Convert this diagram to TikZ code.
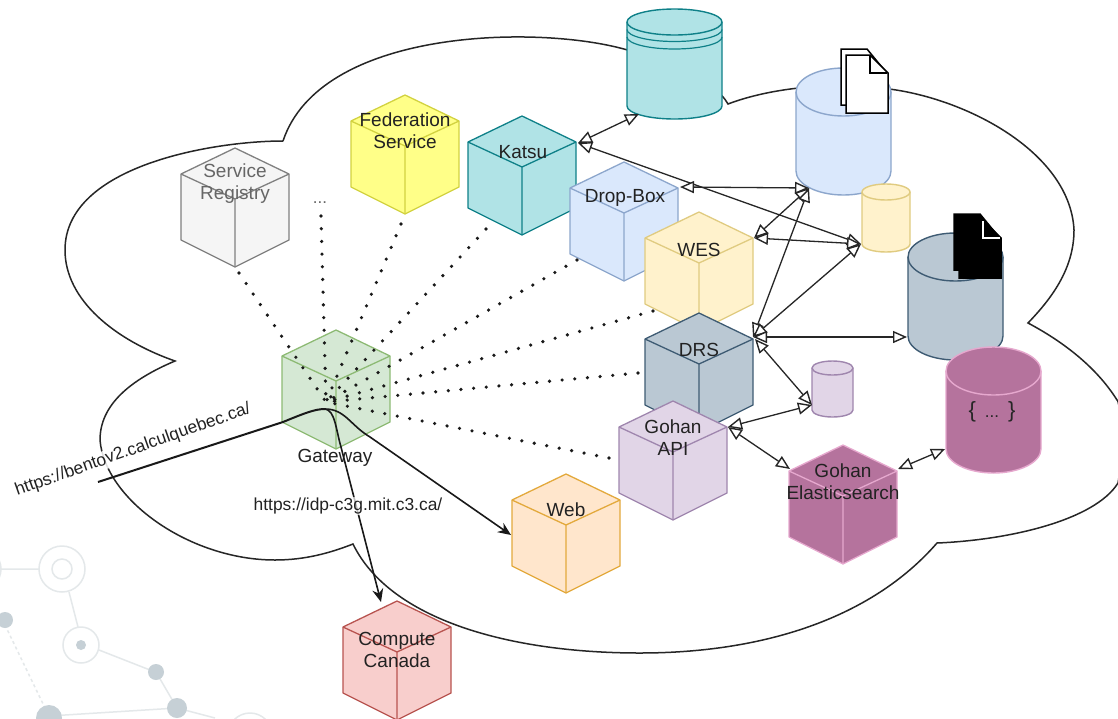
\documentclass[tikz,border=0pt]{standalone}
\usepackage{fontspec}
\setmainfont{Liberation Sans}
\usetikzlibrary{arrows.meta,calc}
\definecolor{txt}{HTML}{222222}
\definecolor{bgnet}{HTML}{E4E8EA}
\definecolor{bgdot}{HTML}{C6D0D6}
\definecolor{tealF}{HTML}{B0E3E6}\definecolor{tealS}{HTML}{0E8088}
\definecolor{blueF}{HTML}{DAE8FC}\definecolor{blueS}{HTML}{8CA6CC}
\definecolor{ylwF}{HTML}{FFF2CC}\definecolor{ylwS}{HTML}{E0CB80}
\definecolor{slateF}{HTML}{BAC8D3}\definecolor{slateS}{HTML}{3E5B73}
\definecolor{lilF}{HTML}{E1D5E7}\definecolor{lilS}{HTML}{9F86AE}
\definecolor{magF}{HTML}{B5739D}\definecolor{magS}{HTML}{E6A8CE}
\definecolor{greyF}{HTML}{F5F5F5}\definecolor{greyS}{HTML}{808080}
\definecolor{fedF}{HTML}{FFFF88}\definecolor{fedS}{HTML}{D2D240}
\definecolor{webF}{HTML}{FFE6CC}\definecolor{webS}{HTML}{E3A93C}
\definecolor{gwF}{HTML}{D5E8D4}\definecolor{gwS}{HTML}{8DBA74}
\definecolor{ccF}{HTML}{F8CECC}\definecolor{ccS}{HTML}{B85450}
\tikzset{
  lbl/.style={font=\fontsize{19}{22}\selectfont,align=center,text=txt,inner sep=0pt},
  urltxt/.style={font=\fontsize{17.4}{20}\selectfont,text=txt,inner sep=1pt},
  dotline/.style={line width=3.6pt,line cap=round,dash pattern=on 0pt off 12.7pt,draw=black!90},
  twoway/.style={line width=1.3pt,draw=black!85,{Triangle[open,fill=white,length=14pt,width=12pt,line width=1.4pt]}-{Triangle[open,fill=white,length=14pt,width=12pt,line width=1.4pt]}},
  route/.style={line width=1.6pt,draw=black!90},
  routeend/.style={-{Stealth[length=13pt,width=11pt]}},
  cloudline/.style={line width=1.5pt,draw=black!85},
  net/.style={line width=1.5pt,draw=bgnet},
}
% name, centre x, top y, fill, stroke
\newcommand{\cubebox}[5]{%
  \begin{scope}[shift={(#2,#3)}]
    \coordinate (#1-t) at (0,0);
    \coordinate (#1-ul) at (-54,26);
    \coordinate (#1-ur) at (54,26);
    \coordinate (#1-c) at (0,51);
    \coordinate (#1-ll) at (-54,92);
    \coordinate (#1-lr) at (54,92);
    \coordinate (#1-b) at (0,119);
    \filldraw[fill=#4,draw=#5,line width=1.3pt,line join=round]
      (#1-t)--(#1-ur)--(#1-lr)--(#1-b)--(#1-ll)--(#1-ul)--cycle;
    \draw[draw=#5,line width=1.3pt] (#1-ul)--(#1-c)--(#1-ur) (#1-c)--(#1-b);
  \end{scope}}
% name, left x, right x, top y, bottom y, ry, fill, stroke
\newcommand{\drum}[8]{%
  \coordinate (#1-tl) at (#2,#4+#6);
  \coordinate (#1-tr) at (#3,#4+#6);
  \coordinate (#1-bl) at (#2,#5-#6);
  \coordinate (#1-br) at (#3,#5-#6);
  \filldraw[fill=#7,draw=#8,line width=1.4pt]
    (#1-tl) arc[start angle=180,end angle=0,x radius={(#3-#2)/2},y radius=-#6]
    -- (#1-br) arc[start angle=0,end angle=180,x radius={(#3-#2)/2},y radius=#6] -- cycle;
  \draw[draw=#8,line width=1.4pt]
    (#1-tl) arc[start angle=180,end angle=0,x radius={(#3-#2)/2},y radius=#6];}
% name, left, top, fill, line, colour of the fold
\newcommand{\pages}[6]{%
  \begin{scope}[shift={(#2,#3)}]
    \coordinate (#1) at (0,0);
    \filldraw[fill=#4,draw=#5,line width=1.5pt,line join=miter]
      (0,0)--(26,0)--(44,22)--(44,56)--(0,56)--cycle;
    \filldraw[fill=#4,draw=#5,line width=1.5pt,line join=miter]
      (5,6)--(29,6)--(47,24)--(47,64)--(5,64)--cycle;
    \draw[draw=#6,line width=1.5pt,line join=miter] (29,7)--(29,24)--(46,24);
  \end{scope}}
\begin{document}
\begin{tikzpicture}[x=1pt,y=-1pt]
\useasboundingbox (0,0) rectangle (1118,718);
\fill[white] (0,0) rectangle (1118,718);
% faint network backdrop
\begin{scope}
\clip (0,0) rectangle (1118,718);
\draw[net] (0,569)--(39,569) (69,592)--(78,627) (99,650)--(150,670);
\draw[net] (156,672)--(177,708) (49,716)--(177,708) (177,708)--(215,718);
\draw[net,dashed] (5,625)--(45,708);
\draw[net] (62,569) circle[radius=23] (62,569) circle[radius=10] (81,645) circle[radius=18] (-20,569) circle[radius=21] (250,735) circle[radius=22];
\fill[bgdot] (81,645) circle[radius=5] (5,620) circle[radius=8] (156,672) circle[radius=8] (177,708) circle[radius=10] (49,718) circle[radius=13];
\end{scope}
% cloud
\coordinate (c1) at (283,141);
\coordinate (c2) at (175,361);
\coordinate (c3) at (353,544);
\coordinate (c4) at (937,543);
\coordinate (c5) at (1028,323);
\coordinate (c6) at (728,104);
\draw[cloudline,line join=miter]
  (c1) .. controls (215,141) and (65,165) .. (65,250)
  .. controls (65,300) and (115,340) .. (c2)
  .. controls (130,380) and (100,405) .. (100,440)
  .. controls (105,500) and (190,560) .. (275,560)
  .. controls (305,560) and (330,553) .. (c3)
  .. controls (390,620) and (510,653) .. (640,653)
  .. controls (760,653) and (870,620) .. (c4)
  .. controls (1010,540) and (1095,520) .. (1118,483)
  .. controls (1124,450) and (1120,400) .. (1117,400)
  .. controls (1095,365) and (1060,340) .. (c5)
  .. controls (1050,300) and (1074,270) .. (1074,230)
  .. controls (1070,150) and (960,95) .. (880,88)
  .. controls (830,82) and (770,88) .. (c6)
  .. controls (715,80) and (660,58) .. (620,48)
  .. controls (530,25) and (320,30) .. (c1);
% dotted links
\coordinate (hub) at (326,402);
\coordinate (d1) at (239,273);
\coordinate (d2) at (321,216);
\coordinate (d3) at (401,224);
\coordinate (d4) at (486,229);
\coordinate (d5) at (577,260);
\coordinate (d6) at (653,311);
\coordinate (d7) at (638,373);
\coordinate (d8) at (609,458);
% cylinders
\drum{teal}{627}{722}{9}{119}{13}{tealF}{tealS}
\draw[draw=tealS,line width=1.2pt] (627,29.5) arc[start angle=180,end angle=0,x radius=47.5,y radius=12];
\draw[draw=tealS,line width=1.2pt] (627,37) arc[start angle=180,end angle=0,x radius=47.5,y radius=12];
\drum{blue}{796}{891}{68}{195}{24}{blueF}{blueS}
\pages{blpages}{841}{49}{white}{black}{black}
\drum{ylw}{862}{910}{184}{252}{8}{ylwF}{ylwS}
\drum{slate}{908}{1003}{233}{360}{24}{slateF}{slateS}
\pages{bkpages}{954}{214}{black}{black}{white}
\drum{lilac}{812}{853}{361}{417}{7}{lilF}{lilS}
\drum{mag}{946}{1041}{347}{473}{24}{magF}{magS}
% cubes
\cubebox{sr}{235}{148}{greyF}{greyS}
\cubebox{fed}{405}{95}{fedF}{fedS}
\cubebox{kat}{522}{116}{tealF}{tealS}
\cubebox{drop}{624}{162}{blueF}{blueS}
\cubebox{wes}{699}{212}{ylwF}{ylwS}
\cubebox{drs}{699}{313}{slateF}{slateS}
\cubebox{gapi}{673}{401}{lilF}{lilS}
\cubebox{ges}{843}{445}{magF}{magS}
\cubebox{web}{566}{474}{webF}{webS}
\cubebox{gw}{336}{330}{gwF}{gwS}
\cubebox{cc}{397}{601}{ccF}{ccS}
% labels
\node[lbl,text=black!60] (lsr) at (235,184) {Service\\Registry};
\node[lbl,text=black!60,font=\fontsize{17}{20}\selectfont] (ldots) at (320,203) {...};
\node[lbl] (lfed) at (405,131) {Federation\\Service};
\node[lbl] (lkat) at (523,152) {Katsu};
\node[lbl] (ldrop) at (625,198) {Drop-Box};
\node[lbl] (lwes) at (699,250) {WES};
\node[lbl] (ldrs) at (699,350) {DRS};
\node[lbl] (lapi) at (673,438) {Gohan\\API};
\node[lbl] (les) at (843,482) {Gohan\\Elasticsearch};
\node[lbl] (lweb) at (566,510) {Web};
\node[lbl] (lgw) at (335,458) {Gateway};
\node[lbl] (lcc) at (397,650) {Compute\\Canada};
\node[lbl,text=black!85,font=\fontsize{22}{24}\selectfont] (lbr) at (992,412) {\{\hspace{9pt}\fontsize{17}{20}\selectfont...\hspace{9pt}\fontsize{22}{24}\selectfont\}};
% dots over the cubes
\foreach \d in {d1,d2,d3,d4,d5,d6,d7,d8}
  \draw[dotline] (\d)--(hub);
% two-way links
\coordinate (katp) at (578,143);
\coordinate (tealp) at (639,114);
\coordinate (ylwp) at (861,244);
\coordinate (dropp) at (680,187);
\coordinate (blup) at (809,188);
\coordinate (wesp) at (754,238);
\coordinate (drsp) at (753,337);
\coordinate (drsq) at (755,339);
\coordinate (slatep) at (907,337);
\coordinate (lilp) at (812,405);
\coordinate (apip) at (728,427);
\coordinate (gesp) at (790,469);
\coordinate (gesq) at (898,469);
\coordinate (magp) at (945,449);
\draw[twoway] (katp)--(tealp);
\draw[twoway] (katp)--(ylwp);
\draw[twoway] (dropp)--(blup);
\draw[twoway] (wesp)--(blup);
\draw[twoway] (wesp)--(ylwp);
\draw[twoway] (drsp)--(blup);
\draw[twoway] (drsp)--(ylwp);
\draw[twoway] (drsp)--(slatep);
\draw[twoway] (drsq)--(lilp);
\draw[twoway] (apip)--(lilp);
\draw[twoway] (apip)--(gesp);
\draw[twoway] (gesq)--(magp);
% entry routes
\coordinate (entry) at (98,482);
\coordinate (bend) at (325,409);
\coordinate (webin) at (511,535);
\coordinate (ccin) at (381,602);
\node[urltxt,rotate=19.5,fill=white,fill opacity=.85,text opacity=1] (u1) at (133,450) {https://bentov2.calculquebec.ca/};
\draw[route,line width=2pt] (entry)--(283,422) .. controls (305,413) and (315,409) .. (bend);
\draw[route,routeend] (bend) .. controls (345,409) and (350,425) .. (370,437) -- (webin);
\draw[route,routeend] (bend) .. controls (335,410) and (336,430) .. (341,447) -- (ccin);
\node[urltxt,fill=white,fill opacity=.7,text opacity=1] (u2) at (348,506) {https://idp-c3g.mit.c3.ca/};
\end{tikzpicture}
\end{document}
